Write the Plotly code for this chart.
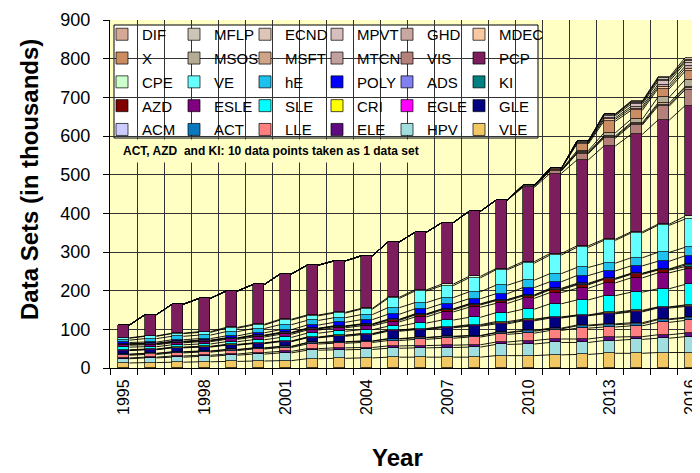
import plotly.graph_objects as go

years = list(range(1995, 2017))

# legend layout as in the original (6 columns x 5 rows); stack order is the reverse
legend_rows = [
    ["DIF", "MFLP", "ECND", "MPVT", "GHD", "MDEC"],
    ["X", "MSOS", "MSFT", "MTCN", "VIS", "PCP"],
    ["CPE", "VE", "hE", "POLY", "ADS", "KI"],
    ["AZD", "ESLE", "SLE", "CRI", "EGLE", "GLE"],
    ["ACM", "ACT", "LLE", "ELE", "HPV", "VLE"],
]

# values in thousands of data sets, 1995..2016
VLE  = [13, 14, 15, 16, 17, 18, 19, 24, 25, 26, 28, 28, 28, 28, 32, 32, 34, 35, 38, 38, 40, 40]
HPV  = [11, 12, 13, 14, 16, 18, 20, 22, 22, 22, 23, 24, 25, 26, 29, 30, 32, 31, 33, 36, 37, 41]
ELE  = [2, 2, 3, 3, 3, 4, 4, 4, 5, 5, 6, 6, 6, 6, 6, 9, 9, 9, 9, 7, 9, 9]
LLE  = [7, 7, 8, 8, 9, 9, 10, 12, 12, 13, 14, 16, 18, 20, 20, 19, 22, 28, 26, 28, 32, 33]
ACT  = [2, 2, 2, 2, 2, 2, 2, 3, 3, 3, 4, 4, 4, 3, 4, 5, 4, 6, 6, 5, 7, 6]
ACM  = [1, 1, 1, 1, 1, 1, 1, 1, 1, 1, 1, 1, 1, 1, 1, 2, 2, 2, 2, 3, 2, 2]
GLE  = [9, 9, 10, 10, 11, 11, 12, 12, 14, 16, 19, 20, 22, 24, 22, 25, 26, 24, 26, 28, 28, 28]
EGLE = [1, 1, 1, 1, 1, 1, 1, 1, 2, 2, 2, 2, 2, 2, 3, 2, 2, 1, 2, 2, 2, 2]
CRI  = [1, 1, 1, 1, 1, 1, 1, 1, 1, 1, 1, 1, 1, 2, 3, 2, 1, 1, 2, 2, 1, 2]
SLE  = [7, 6, 6, 6, 7, 8, 9, 10, 10, 10, 10, 14, 17, 19, 23, 26, 34, 39, 43, 47, 47, 53]
ESLE = [5, 5, 5, 6, 6, 7, 8, 8, 9, 10, 11, 16, 21, 26, 24, 28, 29, 30, 33, 37, 41, 40]
AZD  = [2, 2, 2, 2, 2, 3, 3, 3, 3, 3, 4, 5, 5, 6, 7, 6, 7, 9, 9, 9, 7, 6]
KI   = [1, 1, 1, 1, 1, 1, 1, 1, 1, 1, 2, 2, 2, 2, 2, 2, 2, 2, 2, 2, 2, 4]
ADS  = [1, 1, 1, 1, 1, 1, 1, 1, 1, 1, 1, 1, 1, 1, 1, 1, 2, 2, 1, 1, 1, 3]
POLY = [3, 3, 4, 4, 5, 6, 7, 8, 9, 11, 13, 13, 13, 13, 15, 19, 17, 20, 19, 19, 20, 21]
hE   = [6, 9, 9, 9, 11, 11, 13, 12, 12, 13, 17, 16, 16, 18, 22, 19, 21, 21, 20, 21, 23, 22]
VE   = [5, 6, 7, 7, 9, 9, 12, 12, 12, 14, 24, 30, 31, 36, 40, 44, 48, 52, 59, 64, 70, 73]
CPE  = [1, 1, 1, 2, 2, 2, 2, 2, 2, 2, 3, 3, 4, 4, 3, 4, 4, 4, 3, 3, 3, 7]
PCP  = [33, 55, 75, 86, 94, 103, 117, 129, 133, 136, 143, 149, 159, 168, 177, 192, 207, 222, 241, 252, 269, 286]
VIS  = [0, 0, 0, 0, 0, 0, 0, 0, 0, 0, 0, 0, 0, 0, 0, 3, 6, 16, 20, 24, 36, 41]
MTCN = [0, 0, 0, 0, 0, 0, 0, 0, 0, 0, 0, 0, 0, 0, 0, 1, 1, 2, 3, 3, 4, 4]
MSFT = [0, 0, 0, 0, 0, 0, 0, 0, 0, 0, 0, 0, 0, 0, 0, 0, 1, 2, 3, 3, 4, 4]
MSOS = [0, 0, 0, 0, 0, 0, 0, 0, 0, 0, 0, 0, 0, 0, 0, 1, 1, 4, 8, 9, 15, 18]
X    = [0, 0, 0, 0, 0, 0, 0, 0, 0, 0, 0, 0, 0, 0, 0, 1, 3, 17, 30, 23, 22, 22]
MDEC = [0, 0, 0, 0, 0, 0, 0, 0, 0, 0, 0, 0, 0, 0, 0, 0, 1, 3, 5, 5, 5, 7]
GHD  = [0, 0, 0, 0, 0, 0, 0, 0, 0, 0, 0, 0, 0, 0, 0, 0, 0, 2, 4, 5, 6, 6]
MPVT = [0, 0, 0, 0, 0, 0, 0, 0, 0, 0, 0, 0, 0, 0, 0, 0, 0, 2, 5, 6, 8, 8]
ECND = [0, 0, 0, 0, 0, 0, 0, 0, 0, 0, 0, 0, 0, 0, 0, 0, 0, 1, 3, 4, 5, 5]
MFLP = [0, 0, 0, 0, 0, 0, 0, 0, 0, 0, 0, 0, 0, 0, 0, 0, 0, 0, 1, 2, 3, 3]
DIF  = [0, 0, 0, 0, 0, 0, 0, 0, 0, 0, 0, 0, 0, 0, 0, 0, 0, 0, 1, 2, 3, 6]

tick_years = [1995, 1998, 2001, 2004, 2007, 2010, 2013, 2016]
note = "ACT, AZD  and KI: 10 data points taken as 1 data set"
x_title = "Year"
y_title = "Data Sets (in thousands)"

series = {
    "VLE": VLE, "HPV": HPV, "ELE": ELE, "LLE": LLE, "ACT": ACT, "ACM": ACM,
    "GLE": GLE, "EGLE": EGLE, "CRI": CRI, "SLE": SLE, "ESLE": ESLE, "AZD": AZD,
    "KI": KI, "ADS": ADS, "POLY": POLY, "hE": hE, "VE": VE, "CPE": CPE,
    "PCP": PCP, "VIS": VIS, "MTCN": MTCN, "MSFT": MSFT, "MSOS": MSOS, "X": X,
    "MDEC": MDEC, "GHD": GHD, "MPVT": MPVT, "ECND": ECND, "MFLP": MFLP, "DIF": DIF,
}

colors = {
    "DIF": "#D4AA96", "MFLP": "#CCC4B4", "ECND": "#DDC6B6", "MPVT": "#D6BEBE",
    "GHD": "#C8A8A0", "MDEC": "#F8C8A0",
    "X": "#CC8C62", "MSOS": "#B4AC94", "MSFT": "#CFA588", "MTCN": "#C2A09E",
    "VIS": "#B4807A", "PCP": "#7C1E5E",
    "CPE": "#CCFFCC", "VE": "#66FFFF", "hE": "#1EC0EE", "POLY": "#0000FF",
    "ADS": "#8080F0", "KI": "#008080",
    "AZD": "#800000", "ESLE": "#800080", "SLE": "#00FFFF", "CRI": "#FFFF00",
    "EGLE": "#FF00FF", "GLE": "#000080",
    "ACM": "#CCCCFF", "ACT": "#0A78C0", "LLE": "#FF8080", "ELE": "#5E0A80",
    "HPV": "#A0DEE0", "VLE": "#F2C864",
}

stack_order = [n for row in legend_rows for n in row][::-1]
column_of = {n: c for row in legend_rows for c, n in enumerate(row)}
row_of = {n: r for r, row in enumerate(legend_rows) for n in row}
legend_ids = ["legend", "legend2", "legend3", "legend4", "legend5", "legend6"]

BAR_W = 0.42
# the page body adds an 8 px margin, so the figure is drawn 8 px left/up of the window
PAGE_OFF = 8
FIG_W, FIG_H = 700, 473 - PAGE_OFF
# plot area in window pixels
PLOT_L, PLOT_R, PLOT_T, PLOT_B = 110, 700, 20, 368


def px_x(p):
    return (p - PLOT_L) / (PLOT_R - PLOT_L)


def px_y(p):
    return (PLOT_B - p) / (PLOT_B - PLOT_T)


fig = go.Figure()
for name in stack_order:
    fig.add_trace(go.Bar(
        x=years, y=series[name], name=name, width=BAR_W,
        marker=dict(color=colors[name], line=dict(color="#000000", width=0.7)),
        legend=legend_ids[column_of[name]], legendgroup=name,
        legendrank=100 * (row_of[name] + 1),
    ))

# Excel-style series lines joining the top of each segment between bars
lx, ly = [], []
cum = [0] * len(years)
for name in stack_order:
    cum = [c + v for c, v in zip(cum, series[name])]
    for i in range(len(years) - 1):
        lx += [years[i] + BAR_W / 2, years[i + 1] - BAR_W / 2, None]
        ly += [cum[i], cum[i + 1], None]
fig.add_trace(go.Scatter(x=lx, y=ly, mode="lines", line=dict(color="#000000", width=0.9),
                         showlegend=False, hoverinfo="skip"))

FONT = "Liberation Sans, Arial, sans-serif"
col_px = [102, 174, 245, 317, 387, 459]
legend_layout = {}
for k, lid in enumerate(legend_ids):
    legend_layout[lid] = dict(
        x=px_x(col_px[k]), y=px_y(18), xanchor="left", yanchor="top",
        orientation="v", traceorder="grouped", tracegroupgap=1.3,
        bgcolor="rgba(0,0,0,0)",
        borderwidth=0, font=dict(family=FONT, size=15, color="#000000"),
        itemclick=False, itemdoubleclick=False,
    )

fig.update_layout(
    width=FIG_W, height=FIG_H,
    margin=dict(l=PLOT_L - PAGE_OFF, r=FIG_W - (PLOT_R - PAGE_OFF),
                t=PLOT_T - PAGE_OFF, b=FIG_H - (PLOT_B - PAGE_OFF), autoexpand=False),
    paper_bgcolor="#FFFFFF", plot_bgcolor="#FFFFC4",
    barmode="stack", bargap=0,
    font=dict(family=FONT, color="#000000"),
    showlegend=True,
    **legend_layout,
)

fig.add_shape(type="rect", xref="paper", yref="paper",
              x0=px_x(114), x1=px_x(538), y0=px_y(138), y1=px_y(25),
              fillcolor="#FFFFFF", line=dict(color="#000000", width=1), layer="between")

fig.add_annotation(xref="paper", yref="paper", x=px_x(118), y=px_y(151),
                   xanchor="left", yanchor="middle", showarrow=False,
                   text="<b>" + note + "</b>", font=dict(family=FONT, size=12, color="#000000"),
                   bgcolor="#FFFFC4", borderpad=4)

# axis titles placed as in the original
fig.add_annotation(xref="paper", yref="paper", x=px_x(397), y=px_y(457),
                   xanchor="center", yanchor="middle", showarrow=False,
                   text="<b>" + x_title + "</b>", font=dict(family=FONT, size=24, color="#000000"))
fig.add_annotation(xref="paper", yref="paper", x=px_x(29), y=px_y(180),
                   xanchor="center", yanchor="middle", showarrow=False, textangle=-90,
                   text="<b>" + y_title + "</b>", font=dict(family=FONT, size=24, color="#000000"))

fig.update_xaxes(
    range=[1994.49, 2016.35], tickmode="array", tickvals=tick_years,
    ticktext=[str(y) for y in tick_years], tickangle=-90, ticks="",
    ticklabelstandoff=4, ticklabeloverflow="allow",
    tickfont=dict(family=FONT, size=16, color="#000000"),
    showgrid=False, zeroline=False, automargin=False,
    showline=True, linecolor="#000000", linewidth=1,
    minor=dict(tickmode="linear", tick0=1994.5, dtick=1, ticks="outside", ticklen=6,
               tickcolor="#000000", showgrid=True, gridcolor="#333333", gridwidth=1),
)
fig.update_yaxes(
    range=[0, 900], dtick=100, ticks="outside", ticklen=6, tickcolor="#000000",
    ticklabelstandoff=9,
    tickfont=dict(family=FONT, size=18, color="#000000"),
    showgrid=True, gridcolor="#333333", gridwidth=1, zeroline=False, automargin=False,
    showline=True, linecolor="#000000", linewidth=1,
)

fig.write_html("out.html")
